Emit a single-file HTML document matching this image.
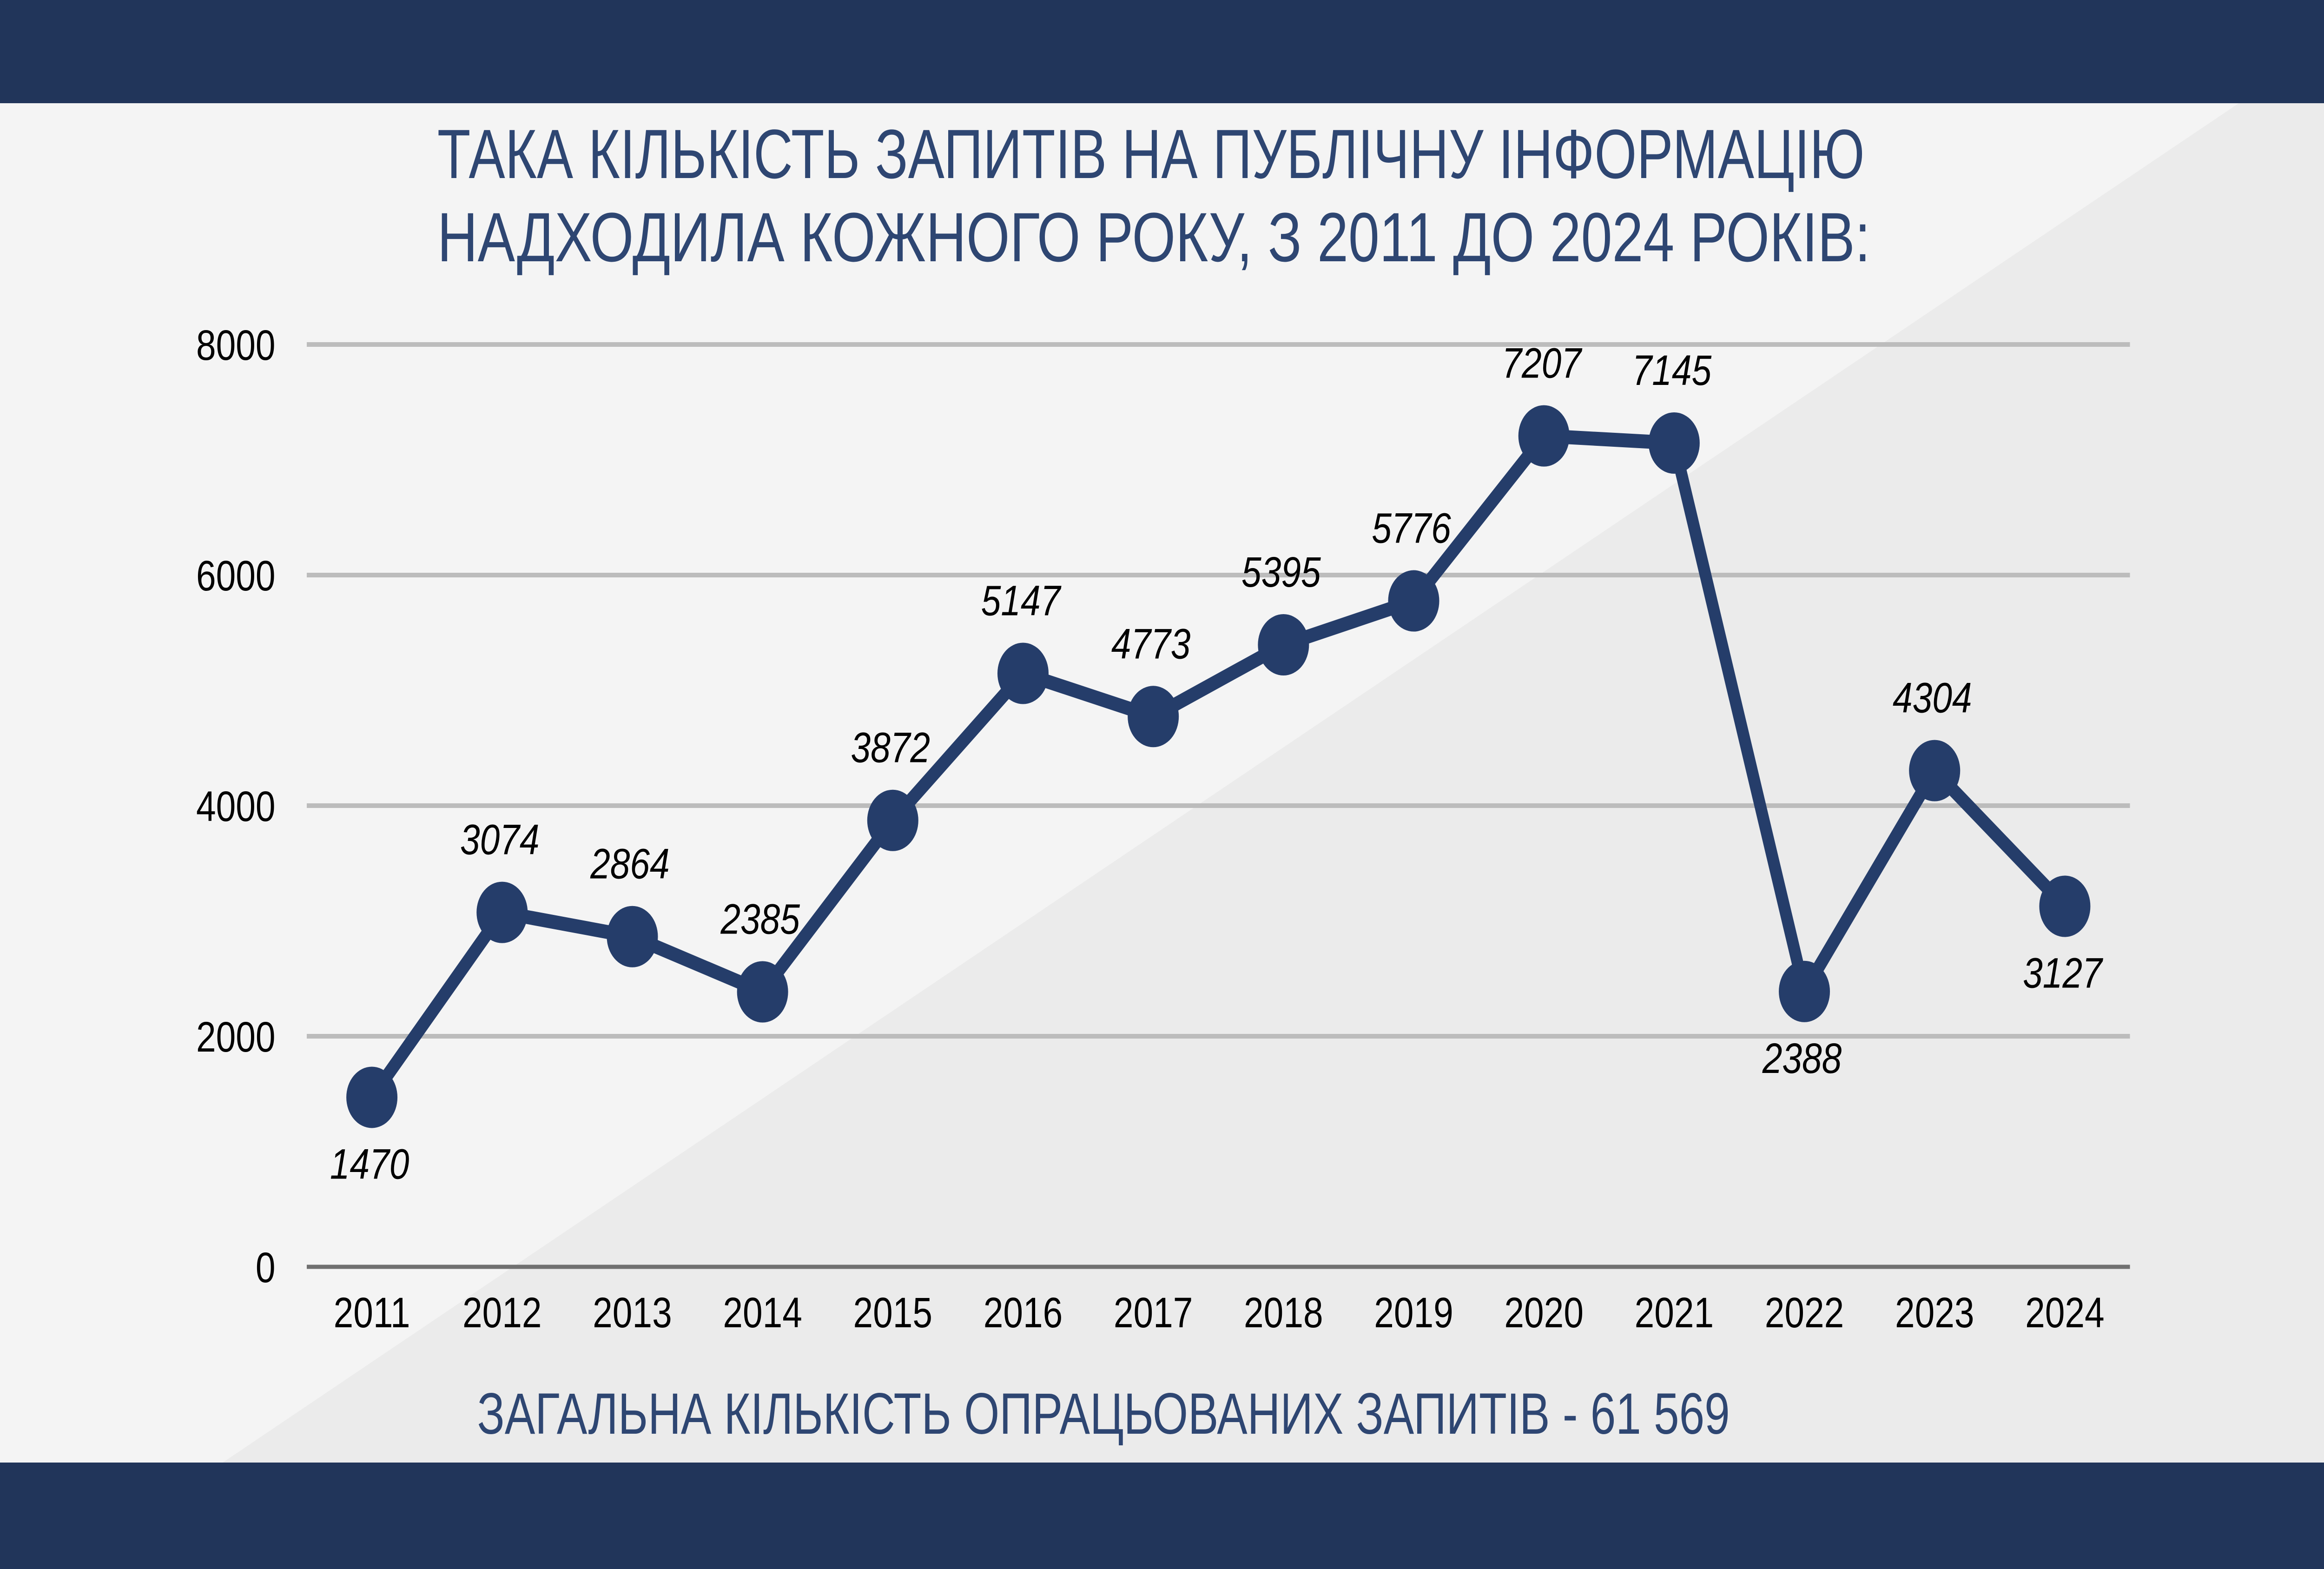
<!DOCTYPE html>
<html><head><meta charset="utf-8"><style>
html,body{margin:0;padding:0;width:100%;height:100%;overflow:hidden;background:#f4f4f4;}
svg{display:block;width:100%;height:100%;}
</style></head><body>
<svg viewBox="0 0 6000 3375" preserveAspectRatio="none" xmlns="http://www.w3.org/2000/svg">
<rect x="0" y="0" width="6000" height="3375" fill="#f4f4f4"/>
<polygon points="575,3146 5780,222 6000,222 6000,3146" fill="#ebebeb"/>
<rect x="0" y="0" width="6000" height="222" fill="#21355a"/>
<rect x="0" y="3146" width="6000" height="229" fill="#21355a"/>
<g font-family="'Liberation Sans', sans-serif" fill="#2e4672" font-size="150">
<text x="1129" y="383" textLength="3685" lengthAdjust="spacingAndGlyphs">ТАКА КІЛЬКІСТЬ ЗАПИТІВ НА ПУБЛІЧНУ ІНФОРМАЦІЮ</text>
<text x="1129" y="562" textLength="3700" lengthAdjust="spacingAndGlyphs">НАДХОДИЛА КОЖНОГО РОКУ, З 2011 ДО 2024 РОКІВ:</text>
</g>
<text x="1232" y="3084" textLength="3234" lengthAdjust="spacingAndGlyphs" font-family="'Liberation Sans', sans-serif" font-size="125" fill="#2e4672">ЗАГАЛЬНА КІЛЬКІСТЬ ОПРАЦЬОВАНИХ  ЗАПИТІВ - 61 569</text>
<g id="grid"></g>
<g id="series"></g>
<g id="labels"></g>
</svg>
<script>
const years = ["2011","2012","2013","2014","2015","2016","2017","2018","2019","2020","2021","2022","2023","2024"];
const requests = [1470,3074,2864,2385,3872,5147,4773,5395,5776,7207,7145,2388,4304,3127];
const labelBelow = [true,false,false,false,false,false,false,false,false,false,false,true,false,true];
const yTicks = [0,2000,4000,6000,8000];
const yTickLabels = ["0","2000","4000","6000","8000"];

const NS = "http://www.w3.org/2000/svg";
const plotL = 792, plotR = 5499, plotTop = 741, plotBottom = 2725, yMax = 8000;
const band = (plotR - plotL) / years.length;
function xPos(i){ return plotL + band * (i + 0.5); }
function yPos(v){ return plotBottom - (v / yMax) * (plotBottom - plotTop); }
function mk(tag, attrs, parent){
  const e = document.createElementNS(NS, tag);
  for (const k in attrs) e.setAttribute(k, attrs[k]);
  parent.appendChild(e);
  return e;
}
const grid = document.getElementById('grid');
yTicks.forEach((t, i) => {
  const isZero = t === 0;
  const ln = mk('line', {x1: plotL, x2: plotR, y1: yPos(t), y2: yPos(t), stroke: isZero ? '#707070' : '#bcbcbc', 'stroke-width': isZero ? 9 : 10}, grid);
  
  
  const tx = mk('text', {x: 711, y: yPos(t) + 33, 'text-anchor': 'end', 'font-family': "'Liberation Sans', sans-serif", 'font-size': 92, fill: '#000'}, grid);
  tx.textContent = yTickLabels[i];
  
  
});
years.forEach((y, i) => {
  const tx = mk('text', {x: xPos(i), y: 2855, 'text-anchor': 'middle', 'font-family': "'Liberation Sans', sans-serif", 'font-size': 92, fill: '#000'}, grid);
  tx.textContent = y;
  
  
});
const series = document.getElementById('series');
const pts = requests.map((v, i) => xPos(i) + ',' + yPos(v)).join(' ');
const line = mk('polyline', {points: pts, fill: 'none', stroke: '#253d6a', 'stroke-width': 30, 'stroke-linejoin': 'round'}, series);


const labels = document.getElementById('labels');
requests.forEach((v, i) => {
  const c = mk('circle', {cx: xPos(i), cy: yPos(v), r: 66, fill: '#253d6a'}, series);
  
  
  const ty = labelBelow[i] ? yPos(v) + 175 : yPos(v) - 125;
  const tx = mk('text', {x: xPos(i) - 6, y: ty, 'text-anchor': 'middle', 'font-family': "'Liberation Sans', sans-serif", 'font-size': 92, 'font-style': 'italic', fill: '#000'}, labels);
  tx.textContent = String(v);
  
  
});
</script>
</body></html>
